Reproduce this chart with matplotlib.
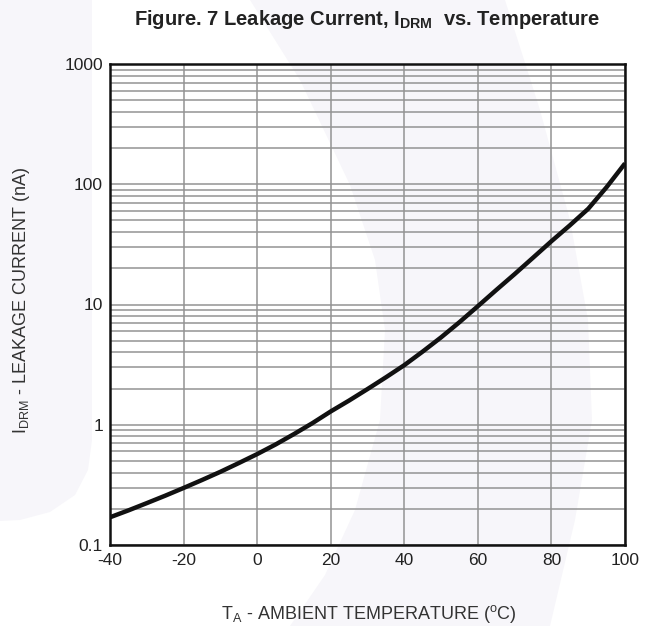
import numpy as np
import matplotlib
matplotlib.use('Agg')
import matplotlib.pyplot as plt
from matplotlib.patches import Polygon

plt.rcParams['font.family'] = ['Liberation Sans', 'DejaVu Sans']
plt.rcParams['mathtext.fontset'] = 'custom'
plt.rcParams['mathtext.rm'] = 'Liberation Sans'
plt.rcParams['mathtext.bf'] = 'Liberation Sans:bold'

# curve (nA vs deg C)
temp_c = [-40, -35, -30, -25, -20, -15, -10, -5, 0, 5, 10, 15, 20, 25, 30, 35,
          40, 45, 50, 55, 60, 65, 70, 75, 80, 85, 90, 95, 100]
leak_na = [0.170, 0.194, 0.223, 0.257, 0.298, 0.347, 0.406, 0.480, 0.570, 0.685,
           0.836, 1.03, 1.29, 1.59, 1.98, 2.48, 3.13, 4.06, 5.33, 7.13, 9.68,
           13.2, 17.9, 24.5, 33.6, 45.5, 62.5, 94.6, 149]

x_ticks = [-40, -20, 0, 20, 40, 60, 80, 100]
y_ticks = [0.1, 1, 10, 100, 1000]
y_tick_labels = ['0.1', '1', '10', '100', '1000']

W, H = 651, 626
fig = plt.figure(figsize=(W / 100, H / 100), dpi=100)

# faint watermark shapes behind the chart (pixel coords -> figure fraction)
wm = '#f7f6fa'
def px(pts):
    return [[x / W, 1 - y / H] for x, y in pts]

left_shape = [(0, 0), (92, 0), (92, 440), (88, 470), (75, 495), (50, 512), (20, 520), (0, 521)]
band = [(250, 0), (300, 80), (350, 185), (375, 260), (385, 330), (380, 420),
        (355, 510), (325, 575), (290, 626), (550, 626), (575, 520), (592, 420),
        (588, 320), (570, 220), (540, 110), (505, 0)]
for shape in (left_shape, band):
    fig.patches.append(Polygon(px(shape), closed=True, transform=fig.transFigure,
                               color=wm, lw=0, zorder=-10))

ax = fig.add_axes([110 / W, 1 - 545 / H, 515 / W, 481 / H])
ax.set_facecolor('none')
ax.set_yscale('log')
ax.set_xlim(-40, 100)
ax.set_ylim(0.1, 1000)

ax.set_xticks(x_ticks)
ax.set_xticklabels([str(v) for v in x_ticks])
ax.set_yticks(y_ticks)
ax.set_yticklabels(y_tick_labels)
ax.tick_params(axis='both', which='both', length=0, labelsize=12.5, colors='#222222')
ax.tick_params(axis='x', pad=6)
ax.tick_params(axis='y', pad=5)

ax.grid(True, which='major', axis='both', color='#939393', lw=1.1)
ax.grid(True, which='minor', axis='y', color='#939393', lw=1.1)
ax.set_axisbelow(True)
for s in ax.spines.values():
    s.set_linewidth(1.8)
    s.set_color('#111111')

ax.plot(temp_c, leak_na, color='#111111', lw=3.2, solid_capstyle='butt',
        solid_joinstyle='round', zorder=5)

fig.text(367 / W, 1 - 25 / H, r'Figure. 7 Leakage Current, I$_{\mathbf{DRM}}$  vs. Temperature',
         ha='center', va='baseline', fontsize=14.5, fontweight='bold', color='#222222')
fig.text(369 / W, 1 - 619 / H, r'T$_{\rm A}$ - AMBIENT TEMPERATURE ($^{\rm o}$C)',
         ha='center', va='baseline', fontsize=13, color='#333333')
fig.text(22 / W, 1 - 300 / H, r'I$_{\rm DRM}$ - LEAKAGE CURRENT (nA)',
         ha='center', va='center', rotation=90, fontsize=13, color='#333333')

fig.savefig('out.png', dpi=100)
